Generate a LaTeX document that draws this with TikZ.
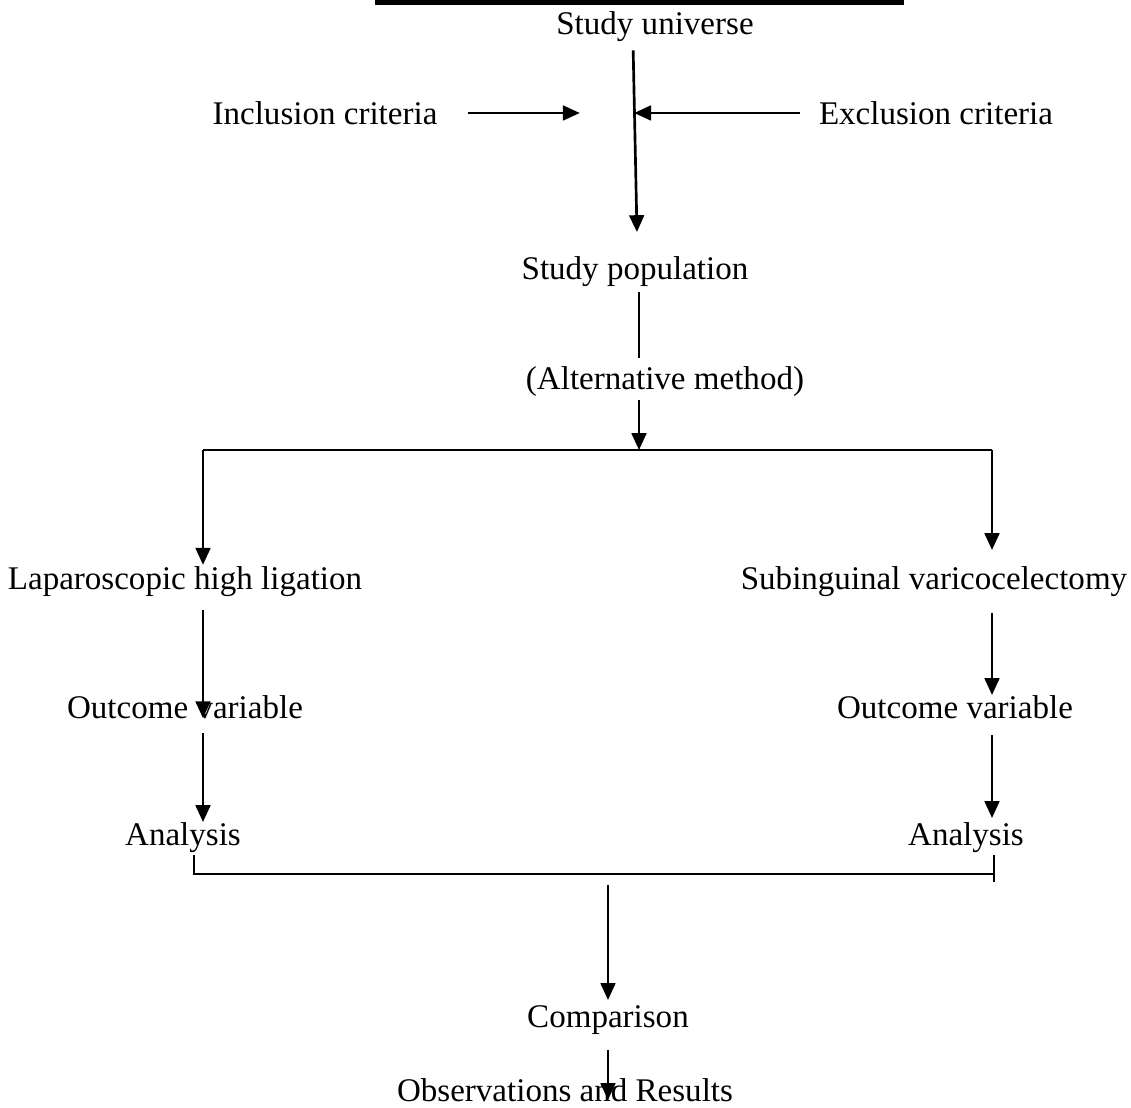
\documentclass[tikz,border=0pt]{standalone}
\usepackage{fontspec}
\setmainfont{Liberation Serif}
\usetikzlibrary{arrows.meta}
\begin{document}
\begin{tikzpicture}[x=0.025cm, y=-0.025cm,
	txt/.style={inner sep=0pt, font=\fontsize{23.5}{28}\selectfont},
	arr/.style={-{Triangle[length=0.42cm, width=0.37cm]}, line width=1.6pt},
	thinline/.style={line width=0.8pt}]
	\useasboundingbox (0,0) rectangle (1131,1108);
	\fill (375,0) rectangle (904,5);
	
	\node (universe) [txt] at (655,27) {Study universe};
	\node (inclusion) [txt] at (325,113) {Inclusion criteria};
	\node (exclusion) [txt] at (936,113) {Exclusion criteria};
	\node (population) [txt] at (635,272) {Study population};
	\node (method) [txt] at (665,382) {(Alternative method)};
	\node (lap) [txt] at (185,582) {Laparoscopic high ligation};
	\node (sub) [txt] at (934,582) {Subinguinal varicocelectomy};
	\node (outL) [txt] at (185,707) {Outcome variable};
	\node (outR) [txt] at (955,707) {Outcome variable};
	\node (anL) [txt] at (183,838) {Analysis};
	\node (anR) [txt] at (966,838) {Analysis};
	\node (comparison) [txt] at (608,1020) {Comparison};
	\node (results) [txt] at (565,1090) {Observations and Results};
	
	\coordinate (cross) at (633,113);
	\coordinate (mid) at (639,450);
	\coordinate (jl) at (203,450);
	\coordinate (jr) at (992,450);
	\coordinate (bl) at (194,874);
	\coordinate (br) at (994,874);
	
	\draw[arr, line width=1.9pt, shorten <=0.2cm, shorten >=1cm] (universe.south -| cross) -- ([xshift=2]population.center);
	\draw[arr, shorten <=0.75cm, shorten >=1.33cm] (inclusion.east) -- (cross);
	\draw[arr, shorten <=0.48cm, shorten >=0.03cm] (exclusion.west) -- (cross);
	\draw[thinline, shorten <=0.5cm, shorten >=0.6cm] (population -| mid) -- (method -| mid);
	\draw[arr, shorten <=0.45cm] (method -| mid) -- (mid);
	\draw[thinline] (jl) -- (jr);
	\draw[arr, shorten >=0.43cm] (jl) -- (lap -| jl);
	\draw[arr, shorten >=0.8cm] (jr) -- (sub -| jr);
	\draw[arr, shorten <=0.7cm, shorten >=-0.28cm] (lap -| jl) -- (outL -| jl);
	\draw[arr, shorten <=0.78cm, shorten >=0.3cm] (sub -| jr) -- (outR -| jr);
	\draw[arr, shorten <=0.65cm, shorten >=0.4cm] (outL -| jl) -- (anL -| jl);
	\draw[arr, shorten <=0.7cm, shorten >=0.5cm] (outR -| jr) -- (anR -| jr);
	\draw[thinline, shorten <=0.43cm] (anL -| bl) -- (bl) -- (br);
	\draw[thinline, shorten <=0.43cm] (anR -| br) -- (br) -- ++(0,8);
	\draw[arr, shorten <=0.28cm, shorten >=0.5cm] (bl -| comparison) -- (comparison.center);
	\draw[arr, shorten <=0.38cm, shorten >=-0.25cm] (comparison) -- (comparison |- results);
\end{tikzpicture}
\end{document}
